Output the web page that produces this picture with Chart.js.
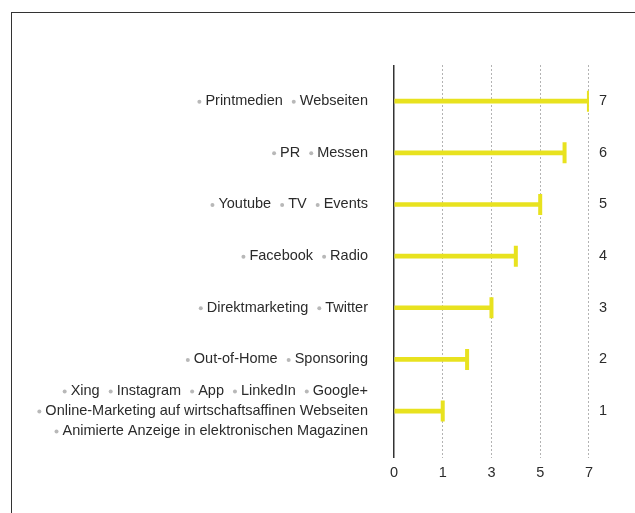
<!DOCTYPE html>
<html><head><meta charset="utf-8">
<script src="https://cdn.jsdelivr.net/npm/chart.js@4/dist/chart.umd.min.js"></script>
<style>
html,body{margin:0;padding:0;background:#fff;overflow:hidden;}
#frame{position:absolute;left:11px;top:12px;width:700px;height:600px;border:1.5px solid #333;box-sizing:border-box;}
#wrap{position:absolute;left:0;top:0;width:635px;height:513px;}
</style></head><body>
<div id="frame"></div>
<div id="wrap"><canvas id="c"></canvas></div>
<script>
// Rank of each row (top to bottom) – also shown on the right side
const ranks = [7, 6, 5, 4, 3, 2, 1];
// Length of each bar
const barValues = [7, 6, 5, 4, 3, 2, 1];
// Items listed left of each row (each inner array is one text line)
const rowLabels = [
  [["Printmedien", "Webseiten"]],
  [["PR", "Messen"]],
  [["Youtube", "TV", "Events"]],
  [["Facebook", "Radio"]],
  [["Direktmarketing", "Twitter"]],
  [["Out-of-Home", "Sponsoring"]],
  [["Xing", "Instagram", "App", "LinkedIn", "Google+"],
   ["Online-Marketing auf wirtschaftsaffinen Webseiten"],
   ["Animierte Anzeige in elektronischen Magazinen"]]
];
// Horizontal axis: tick positions and the labels printed under them
const xTickValues = [-1, 1, 3, 5, 7];
const xTickLabels = ["0", "1", "3", "5", "7"];

const YELLOW = '#e8e21f';
const FONT = '"Liberation Sans", Arial, sans-serif';

const labelPlugin = {
  id: 'rowLabels',
  afterDraw(chart) {
    const ctx = chart.ctx, ys = chart.scales.y;
    ctx.save();
    ctx.font = '14.5px ' + FONT;
    ctx.textBaseline = 'middle';
    const right = chart.chartArea.left - 26;
    const lineH = 20;
    const bulletW = 4, bulletGap = 4, itemGap = 9;
    rowLabels.forEach((lines, i) => {
      const cy = ys.getPixelForValue(ranks[i]);
      lines.forEach((items, li) => {
        const y = cy + (li - (lines.length - 1) / 2) * lineH;
        const ws = items.map(t => ctx.measureText(t).width);
        const total = ws.reduce((a, w) => a + bulletW + bulletGap + w, 0) + itemGap * (items.length - 1);
        let x = right - total;
        items.forEach((t, k) => {
          ctx.fillStyle = '#b8b8b8';
          ctx.beginPath(); ctx.arc(x + 2, y + 0.5, 2, 0, Math.PI * 2); ctx.fill();
          x += bulletW + bulletGap;
          ctx.fillStyle = '#2b2b2b';
          ctx.fillText(t, x, y);
          x += ws[k] + itemGap;
        });
      });
    });
    ctx.restore();
  }
};

const yMin = 0.1, yMax = 7.7;

new Chart(document.getElementById('c'), {
  type: 'bar',
  data: {
    datasets: [
      {
        type: 'bar',
        data: ranks.map((r, i) => ({ y: r, x: barValues[i] })),
        base: -1,
        backgroundColor: YELLOW,
        barThickness: 4,
        borderWidth: 0,
        yAxisID: 'y', xAxisID: 'x'
      },
      {
        type: 'scatter',
        data: ranks.map((r, i) => ({ y: r, x: barValues[i] })),
        pointStyle: 'line',
        rotation: 90,
        radius: 10.5,
        hoverRadius: 10.5,
        borderWidth: 4,
        borderColor: YELLOW,
        backgroundColor: YELLOW,
        showLine: false,
        yAxisID: 'y', xAxisID: 'x'
      }
    ]
  },
  options: {
    indexAxis: 'y',
    responsive: true,
    maintainAspectRatio: false,
    animation: false,
    layout: { padding: { left: 394, top: 65, right: 18, bottom: 24 } },
    plugins: { legend: { display: false }, tooltip: { enabled: false } },
    scales: {
      x: {
        type: 'linear',
        min: -1, max: 7,
        offset: false,
        afterBuildTicks: axis => { axis.ticks = xTickValues.map(v => ({ value: v })); },
        ticks: {
          callback: (v, i) => xTickLabels[i],
          font: { size: 14.5, family: FONT },
          color: '#2b2b2b',
          padding: 7,
          maxRotation: 0
        },
        grid: {
          drawTicks: false,
          offset: false,
          color: c => (c.tick && c.tick.value === -1) ? '#333' : '#b3b3b3',
          lineWidth: c => (c.tick && c.tick.value === -1) ? 1.5 : 1
        },
        border: {
          display: false,
          dash: c => (c.tick && c.tick.value === -1) ? [] : [2, 2]
        }
      },
      y: {
        type: 'linear',
        position: 'left',
        min: yMin, max: yMax,
        offset: false,
        display: false
      },
      y2: {
        type: 'linear',
        position: 'right',
        min: yMin, max: yMax,
        offset: false,
        afterBuildTicks: axis => { axis.ticks = ranks.map(v => ({ value: v })); },
        ticks: {
          callback: v => String(v),
          font: { size: 14.5, family: FONT },
          color: '#2b2b2b',
          padding: 10
        },
        grid: { display: false, drawTicks: false, offset: false },
        border: { display: false }
      }
    }
  },
  plugins: [labelPlugin]
});
</script>
</body></html>
